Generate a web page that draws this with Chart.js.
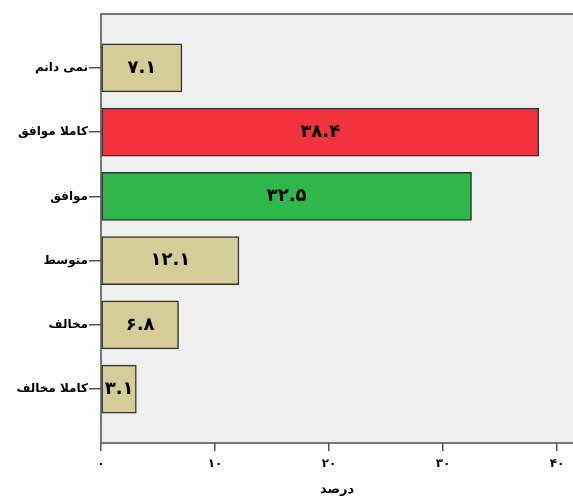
<!DOCTYPE html>
<html><head><meta charset="utf-8">
<script src="https://cdn.jsdelivr.net/npm/chart.js@4/dist/chart.umd.min.js"></script>
<style>html,body{margin:0;padding:0;background:#fff;}canvas{display:block;}</style>
</head><body>
<canvas id="c" width="573" height="497"></canvas>
<script>
const categories = ['نمی دانم', 'کاملا موافق', 'موافق', 'متوسط', 'مخالف', 'کاملا مخالف'];
const values = [7.1, 38.4, 32.5, 12.1, 6.8, 3.1];
const barColors = ['#d4cd98', '#f2333d', '#2eb84b', '#d4cd98', '#d4cd98', '#d4cd98'];
const xTicks = [0, 10, 20, 30, 40];
const axisTitle = 'درصد';

const toFa = s => String(s).replace(/[0-9]/g, d => '۰۱۲۳۴۵۶۷۸۹'[d]);
const FONT = "'DejaVu Sans', sans-serif";

const bgPlugin = {
  id: 'bg',
  beforeDraw(chart) {
    const {ctx, chartArea: {left, top, right, bottom}} = chart;
    ctx.save();
    ctx.fillStyle = '#efefef';
    ctx.fillRect(left, top, right - left + 2, bottom - top);
    ctx.strokeStyle = '#777';
    ctx.lineWidth = 2;
    ctx.beginPath();
    ctx.moveTo(right + 2, top);
    ctx.lineTo(left, top);
    ctx.lineTo(left, bottom);
    ctx.lineTo(right + 2, bottom);
    ctx.stroke();
    ctx.restore();
  }
};
const labelPlugin = {
  id: 'vals',
  afterDatasetsDraw(chart) {
    const {ctx} = chart;
    const meta = chart.getDatasetMeta(0);
    ctx.save();
    ctx.fillStyle = '#000';
    ctx.font = 'bold 18px ' + FONT;
    ctx.textAlign = 'center';
    ctx.textBaseline = 'middle';
    meta.data.forEach((bar, i) => {
      ctx.fillText(toFa(values[i].toFixed(1)), (bar.x + bar.base) / 2, bar.y);
    });
    ctx.restore();
  }
};

new Chart(document.getElementById('c'), {
  type: 'bar',
  data: {
    datasets: [{
      data: values.map((v, i) => ({x: v, y: i})),
      backgroundColor: barColors,
      borderColor: '#333',
      borderWidth: 1.5,
      borderSkipped: false,
      barThickness: 48
    }]
  },
  options: {
    indexAxis: 'y',
    responsive: false,
    animation: false,
    layout: {padding: {top: 14, right: 0, left: 0, bottom: 0}},
    plugins: {legend: {display: false}, tooltip: {enabled: false}},
    scales: {
      x: {
        type: 'linear',
        min: 0, max: 41.4,
        afterBuildTicks: s => { s.ticks = xTicks.map(v => ({value: v})); },
        ticks: {callback: v => toFa(v), color: '#000', font: {family: FONT, size: 12, weight: 'bold'}, padding: 6, maxRotation: 0},
        grid: {drawOnChartArea: false, drawTicks: true, tickLength: 8, color: '#555', lineWidth: 1.5},
        border: {display: false},
        title: {display: true, text: axisTitle, color: '#000', font: {family: FONT, size: 13, weight: 'bold'}, padding: {top: 4, bottom: 0}}
      },
      y: {
        type: 'linear',
        reverse: true,
        offset: false,
        min: -0.84, max: 5.84,
        afterBuildTicks: s => { s.ticks = categories.map((_, i) => ({value: i})); },
        afterFit: s => { s.width = 101; },
        ticks: {callback: v => categories[v] ?? '', color: '#000', font: {family: FONT, size: 12, weight: 'bold'}, padding: 1},
        grid: {offset: false, drawOnChartArea: false, drawTicks: true, tickLength: 12, color: '#555', lineWidth: 1.5},
        border: {display: false}
      }
    }
  },
  plugins: [bgPlugin, labelPlugin]
});
</script>
</body></html>
